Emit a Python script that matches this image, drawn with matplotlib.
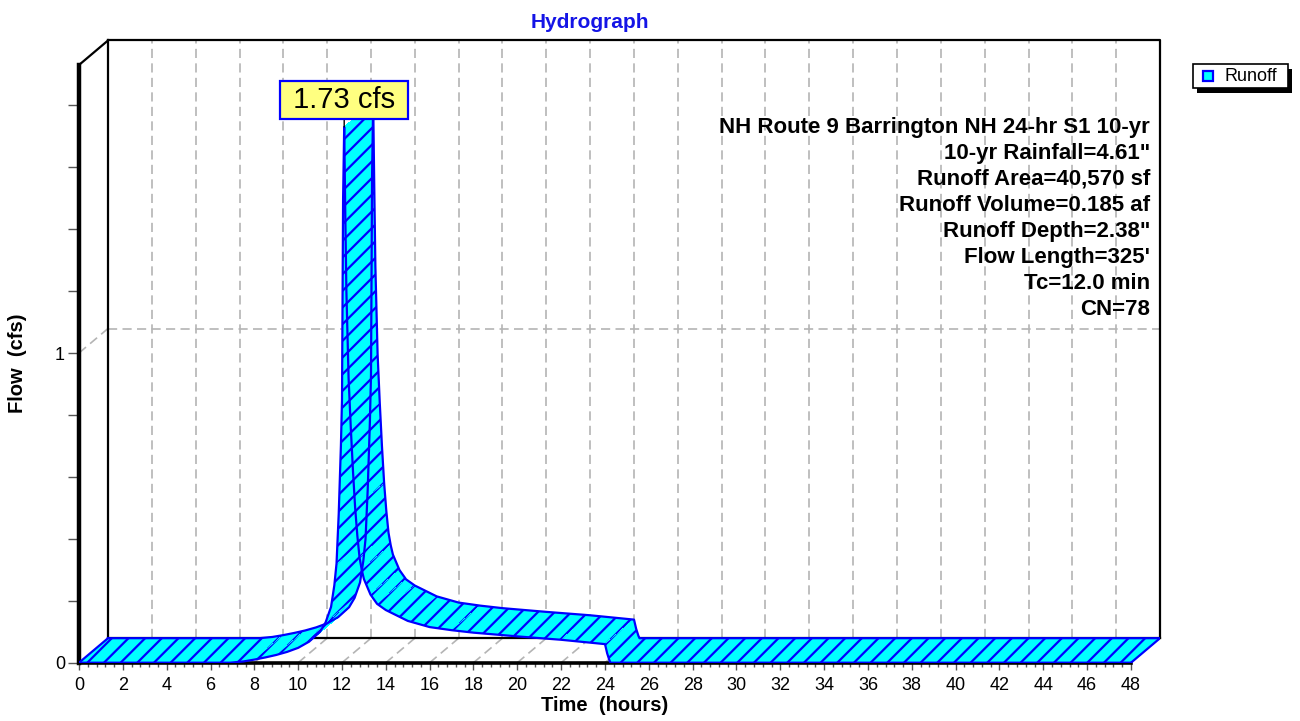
import matplotlib
matplotlib.use("Agg")
import matplotlib.pyplot as plt
from matplotlib.collections import PolyCollection
from matplotlib.patches import Rectangle
import numpy as np

# ---- hydrograph data (time in hours, runoff in cfs) ----
hours = [0, 6.9, 7.5, 8.0, 8.5, 9.0, 9.5, 10.0, 10.5, 11.0, 11.25, 11.5,
         11.65, 11.75, 11.85, 11.95, 12.0, 12.05, 12.1, 12.15, 12.2, 12.3,
         12.4, 12.5, 12.6, 12.7, 12.8, 12.9, 13.0, 13.3, 13.6, 14.0, 15.0,
         16.0, 17.0, 18.0, 20.0, 22.0, 24.0, 24.1, 24.2, 24.25, 48.0]
flow = [0, 0, 0.004, 0.01, 0.017, 0.025, 0.035, 0.048, 0.068, 0.1, 0.13, 0.18,
        0.25, 0.32, 0.48, 0.7, 0.85, 1.5, 1.73, 1.45, 1.2, 0.92,
        0.76, 0.62, 0.5, 0.41, 0.34, 0.3, 0.27, 0.22, 0.19, 0.17, 0.135,
        0.115, 0.105, 0.097, 0.085, 0.074, 0.06, 0.03, 0.008, 0, 0]

peak_hour = 12.1
peak_flow = 1.73
peak_label = "1.73 cfs"
series_name = "Runoff"

info_lines = [
    "NH Route 9 Barrington NH 24-hr S1 10-yr",
    '10-yr Rainfall=4.61"',
    "Runoff Area=40,570 sf",
    "Runoff Volume=0.185 af",
    'Runoff Depth=2.38"',
    "Flow Length=325'",
    "Tc=12.0 min",
    "CN=78",
]

x_major = list(range(0, 49, 2))
y_major = [0, 1]
y_labels = ["0", "1"]

plt.rcParams['font.family'] = ['Liberation Sans', 'DejaVu Sans']
plt.rcParams['hatch.color'] = 'blue'
plt.rcParams['hatch.linewidth'] = 1.6

W, H, DPI = 1300, 721, 100
fig = plt.figure(figsize=(W / DPI, H / DPI), dpi=DPI)


def fx(px):
    """Horizontal pixel position -> figure fraction."""
    return px / W


def fy(py):
    """Vertical pixel position (from top) -> figure fraction."""
    return 1 - py / H


# frame geometry (pixels)
X0, Y0 = 79, 662.7
PX_HR = 1052 / 48
PX_CFS = 309.7
DEPTH_X, DEPTH_Y = 29, 24.5
XMAX, YMAX = 48, 1.93

DX = DEPTH_X / PX_HR     # depth offset in hours
DY = DEPTH_Y / PX_CFS    # depth offset in cfs

ax = fig.add_axes([fx(X0), fy(Y0),
                   (XMAX + DX) * PX_HR / W, (YMAX + DY) * PX_CFS / H])
ax.set_xlim(0, XMAX + DX)
ax.set_ylim(0, YMAX + DY)
ax.patch.set_visible(False)

for s in ("top", "right"):
    ax.spines[s].set_visible(False)
ax.spines["left"].set_bounds(0, YMAX)
ax.spines["left"].set_linewidth(3.2)
ax.spines["bottom"].set_bounds(0, XMAX)
ax.spines["bottom"].set_linewidth(2.6)

ax.set_xticks(x_major)
ax.set_xticks(np.round(np.arange(0, XMAX + 0.01, 0.4), 2), minor=True)
ax.set_yticks(y_major)
ax.set_yticklabels(y_labels)
ax.set_yticks(np.round(np.arange(0, 1.81, 0.2), 2), minor=True)
ax.tick_params(axis="x", which="major", length=5, width=1, color="#555555",
               labelsize=13, pad=5)
ax.tick_params(axis="x", which="minor", length=3, width=1, color="#555555")
ax.tick_params(axis="y", which="both", length=8, width=1, color="#555555",
               labelsize=13, pad=2)

grid_kw = dict(color="#b4b4b4", lw=1.2, linestyle=(0, (5.5, 3.2)), zorder=1)
edge_kw = dict(color="black", lw=1.6, zorder=1.5, clip_on=False)

# back wall grid
for t in x_major[:-1]:
    ax.plot([t + DX, t + DX], [DY, YMAX + DY], **grid_kw)
ax.plot([DX, XMAX + DX], [1 + DY, 1 + DY], **grid_kw)
# floor and side wall grid
for t in x_major[1:-1]:
    ax.plot([t, t + DX], [0, DY], **grid_kw)
ax.plot([0, DX], [1, 1 + DY], **grid_kw)

# back wall outline
ax.plot([DX, XMAX + DX, XMAX + DX], [YMAX + DY, YMAX + DY, DY], **edge_kw)
ax.plot([DX, DX], [DY, YMAX + DY], **edge_kw)
ax.plot([DX, XMAX + DX], [DY, DY], **edge_kw)
ax.plot([0, DX], [YMAX, YMAX + DY], **edge_kw)

# ribbon
t = np.array(hours, dtype=float)
q = np.array(flow, dtype=float)
quads = [[(t[i], q[i]), (t[i + 1], q[i + 1]),
          (t[i + 1] + DX, q[i + 1] + DY), (t[i] + DX, q[i] + DY)]
         for i in range(len(t) - 1)]
ribbon = PolyCollection(quads, facecolors="cyan", edgecolors="blue",
                        linewidths=0, hatch="//", antialiaseds=False, zorder=3)
ax.add_collection(ribbon)
line_kw = dict(color="blue", lw=1.6, zorder=4, solid_joinstyle="round")
ax.plot(t, q, **line_kw)
ax.plot(t + DX, q + DY, **line_kw)
ax.plot([t[0], t[0] + DX], [q[0], q[0] + DY], **line_kw)
ax.plot([t[-1], t[-1] + DX], [q[-1], q[-1] + DY], **line_kw)

# peak callout
ax.annotate(" " + peak_label + " ", xy=(peak_hour, peak_flow),
            xytext=(0, 27), textcoords="offset pixels",
            ha="center", va="center", fontsize=21, color="black",
            bbox=dict(boxstyle="square,pad=0.17", fc="#FFFF80", ec="blue", lw=1.6),
            arrowprops=dict(arrowstyle="-", color="black", lw=1,
                            shrinkA=0, shrinkB=0),
            zorder=6, annotation_clip=False)

# axis labels and title
ax.set_xlabel("Time  (hours)", fontsize=14.5, fontweight="bold")
ax.xaxis.set_label_coords(fx(605), fy(696), transform=fig.transFigure)
ax.set_ylabel("Flow  (cfs)", fontsize=14.5, fontweight="bold")
ax.yaxis.set_label_coords(fx(27), fy(363), transform=fig.transFigure)

fig.text(fx(590), fy(22), "Hydrograph", ha="center", va="center",
         fontsize=15, fontweight="bold", color="#1414E6")

# run summary
for k, line in enumerate(info_lines):
    fig.text(fx(1150), fy(127 + 26.1 * k), line, ha="right", va="center",
             fontsize=16, fontweight="bold", color="black")

# legend box with drop shadow
LX0, LX1, LY0, LY1 = 1193, 1288, 64, 88
fig.patches.append(Rectangle((fx(LX0 + 4), fy(LY1 + 5)), (LX1 - LX0) / W,
                             (LY1 - LY0) / H, transform=fig.transFigure,
                             facecolor="black", edgecolor="none", zorder=10))
fig.patches.append(Rectangle((fx(LX0), fy(LY1)), (LX1 - LX0) / W,
                             (LY1 - LY0) / H, transform=fig.transFigure,
                             facecolor="white", edgecolor="black", lw=1.2,
                             zorder=11))
fig.patches.append(Rectangle((fx(1203), fy(81)), 10 / W, 10 / H,
                             transform=fig.transFigure, facecolor="cyan",
                             edgecolor="blue", lw=1.6, zorder=12))
fig.text(fx(1224), fy(76.5), series_name, ha="left", va="center",
         fontsize=13, color="black", zorder=12)

fig.savefig("out.png", dpi=DPI)
